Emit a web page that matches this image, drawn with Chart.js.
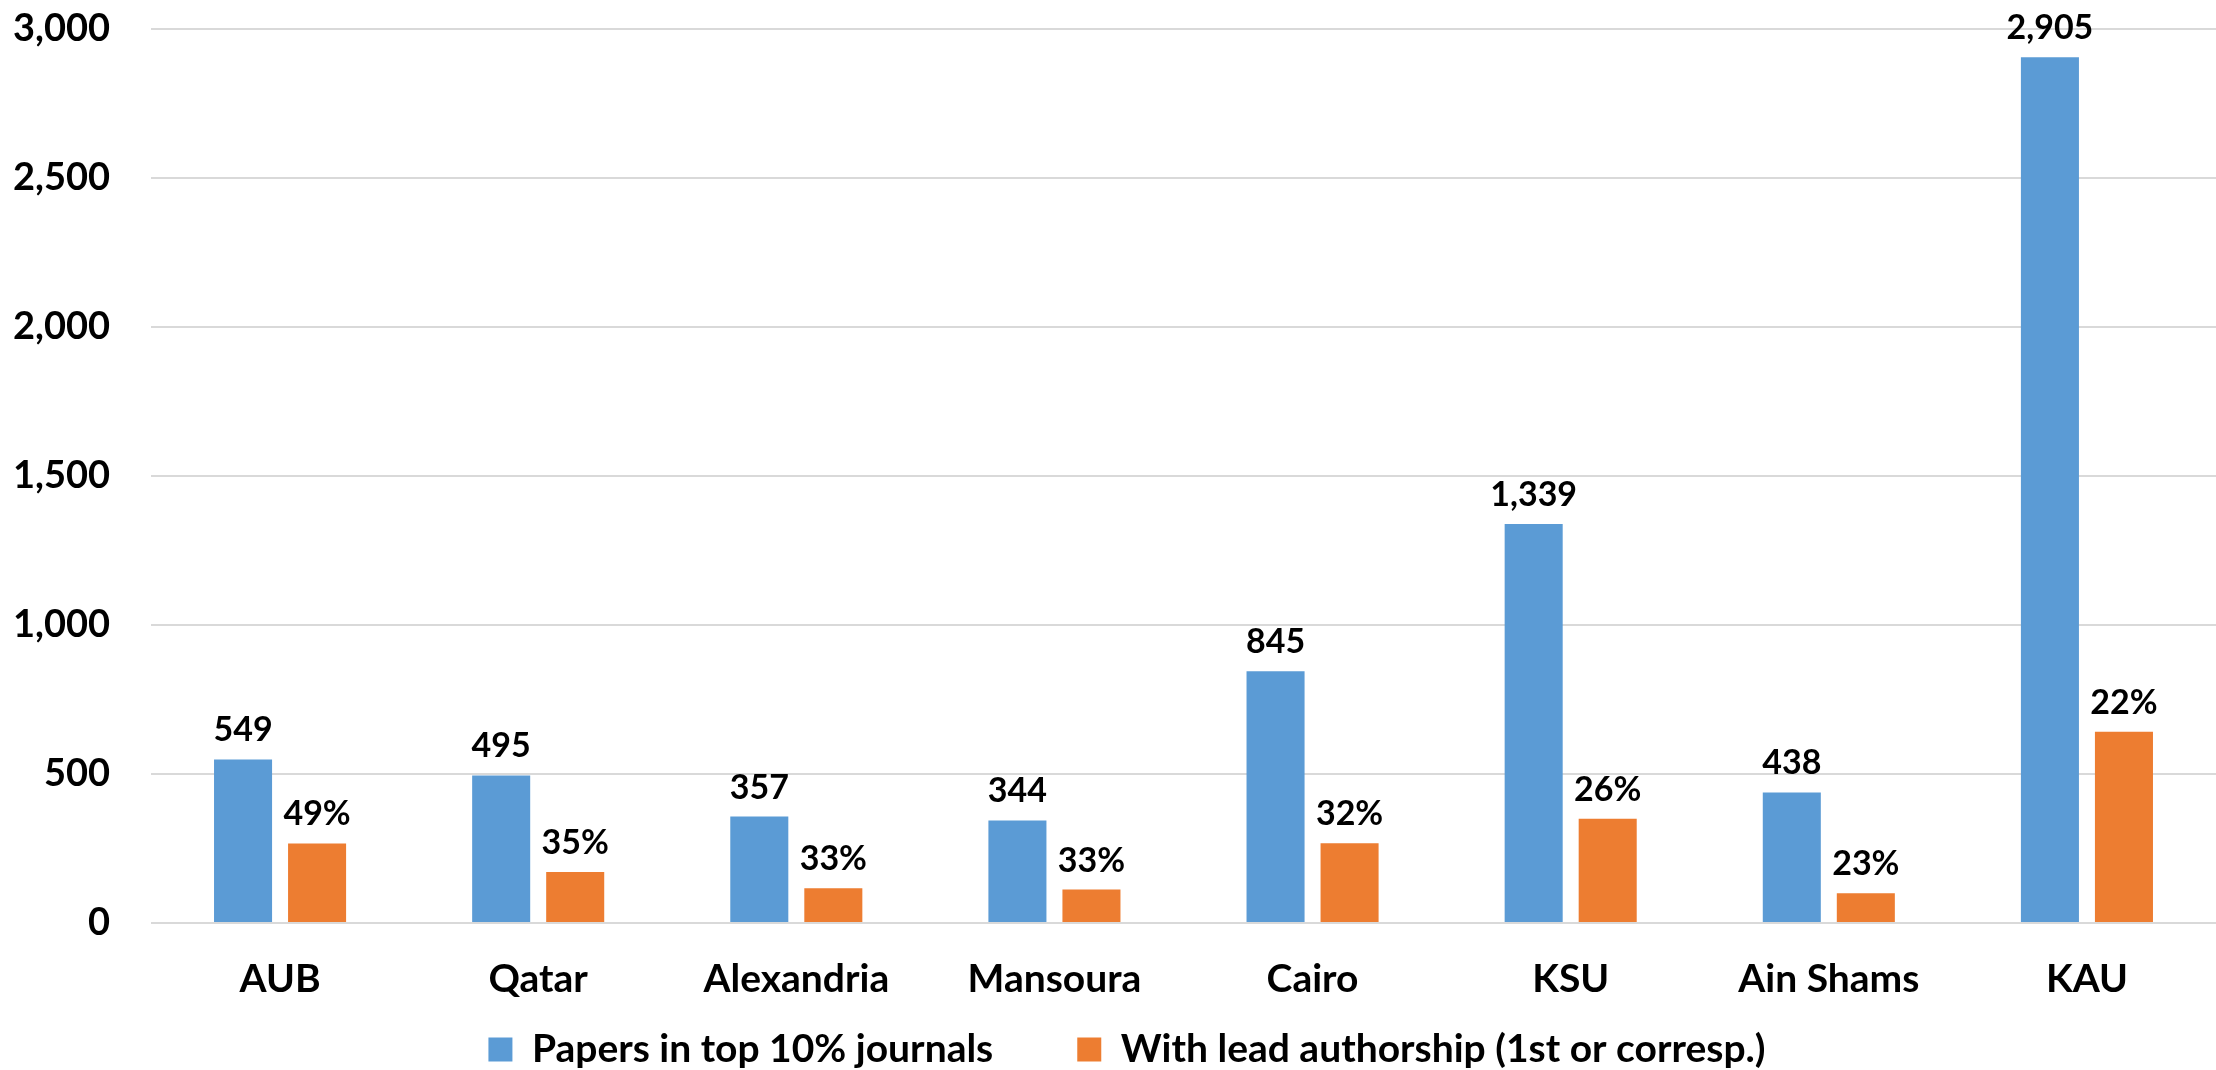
<!DOCTYPE html>
<html>
<head>
<meta charset="utf-8">
<script src="https://cdn.jsdelivr.net/npm/chart.js@4.4.0/dist/chart.umd.min.js"></script>
<style>
  html, body { margin: 0; padding: 0; background: #fff; }
  #wrap { width: 2216px; height: 1070px; }
</style>
</head>
<body>
<div id="wrap"><canvas id="chart1"></canvas></div>
<script>
var categories = ["AUB", "Qatar", "Alexandria", "Mansoura", "Cairo", "KSU", "Ain Shams", "KAU"];
var papers = [549, 495, 357, 344, 845, 1339, 438, 2905];
var leadPapers = [267, 171, 117, 112, 268, 350, 100, 642];
var leadPct = [49, 35, 33, 33, 32, 26, 23, 22];
var yTicks = [0, 500, 1000, 1500, 2000, 2500, 3000];

var FONT = "Lato, 'Open Sans', sans-serif";

// value labels above the bars
var barLabels = {
    id: 'barLabels',
    afterDatasetsDraw: function(chart) {
        var ctx = chart.ctx;
        ctx.save();
        ctx.font = "bold 34px " + FONT;
        ctx.fillStyle = '#000';
        ctx.textAlign = 'center';
        ctx.textBaseline = 'alphabetic';
        chart.data.datasets.forEach(function(ds, i) {
            var meta = chart.getDatasetMeta(i);
            meta.data.forEach(function(bar, j) {
                var txt = i === 0 ? ds.data[j].toLocaleString('en-US') : leadPct[j] + '%';
                ctx.fillText(txt, bar.x, bar.y - 18);
            });
        });
        ctx.restore();
    }
};

// legend sits a bit right of centre and closer to the axis labels
var legendShift = {
    id: 'legendShift',
    afterLayout: function(chart) {
        var lg = chart.legend;
        lg.left += 19;
        lg.right += 19;
        lg.top -= 57;
        lg.bottom -= 57;
    }
};

var ctx = document.getElementById("chart1").getContext('2d');
var chart = new Chart(ctx, {
    type: 'bar',
    data: {
        labels: categories,
        datasets: [{
            label: 'Papers in top 10% journals',
            data: papers,
            backgroundColor: '#5b9bd5',
            categoryPercentage: 0.5736,
            barPercentage: 0.784
        }, {
            label: 'With lead authorship (1st or corresp.)',
            data: leadPapers,
            backgroundColor: '#ed7d31',
            categoryPercentage: 0.5736,
            barPercentage: 0.784
        }]
    },
    options: {
        responsive: true,
        maintainAspectRatio: false,
        animation: false,
        layout: { padding: { left: 0, right: 0, top: 29, bottom: -66 } },
        scales: {
            x: {
                grid: { display: false, drawTicks: false },
                border: { display: false },
                ticks: {
                    color: '#000',
                    padding: 33,
                    maxRotation: 0,
                    font: { family: FONT, size: 39, weight: 'bold' }
                },
                afterFit: function(s) { s.height = 80; }
            },
            y: {
                min: 0,
                max: 3000,
                afterBuildTicks: function(s) {
                    s.ticks = yTicks.map(function(v) { return { value: v }; });
                },
                grid: { color: '#d9d9d9', lineWidth: 2, drawTicks: false },
                border: { display: false },
                ticks: {
                    color: '#000',
                    padding: 41,
                    font: { family: FONT, size: 38, weight: 'bold' },
                    callback: function(v) { return v.toLocaleString('en-US'); }
                },
                afterFit: function(s) {
                    s.width = 151;
                    s.paddingTop = 0;
                    s.paddingBottom = 0;
                }
            }
        },
        plugins: {
            legend: {
                display: true,
                position: 'bottom',
                labels: {
                    color: '#000',
                    boxWidth: 24,
                    boxHeight: 24,
                    padding: 84,
                    font: { family: FONT, size: 39, weight: 'bold' }
                }
            },
            tooltip: { enabled: false }
        }
    },
    plugins: [barLabels, legendShift]
});
</script>
</body>
</html>
